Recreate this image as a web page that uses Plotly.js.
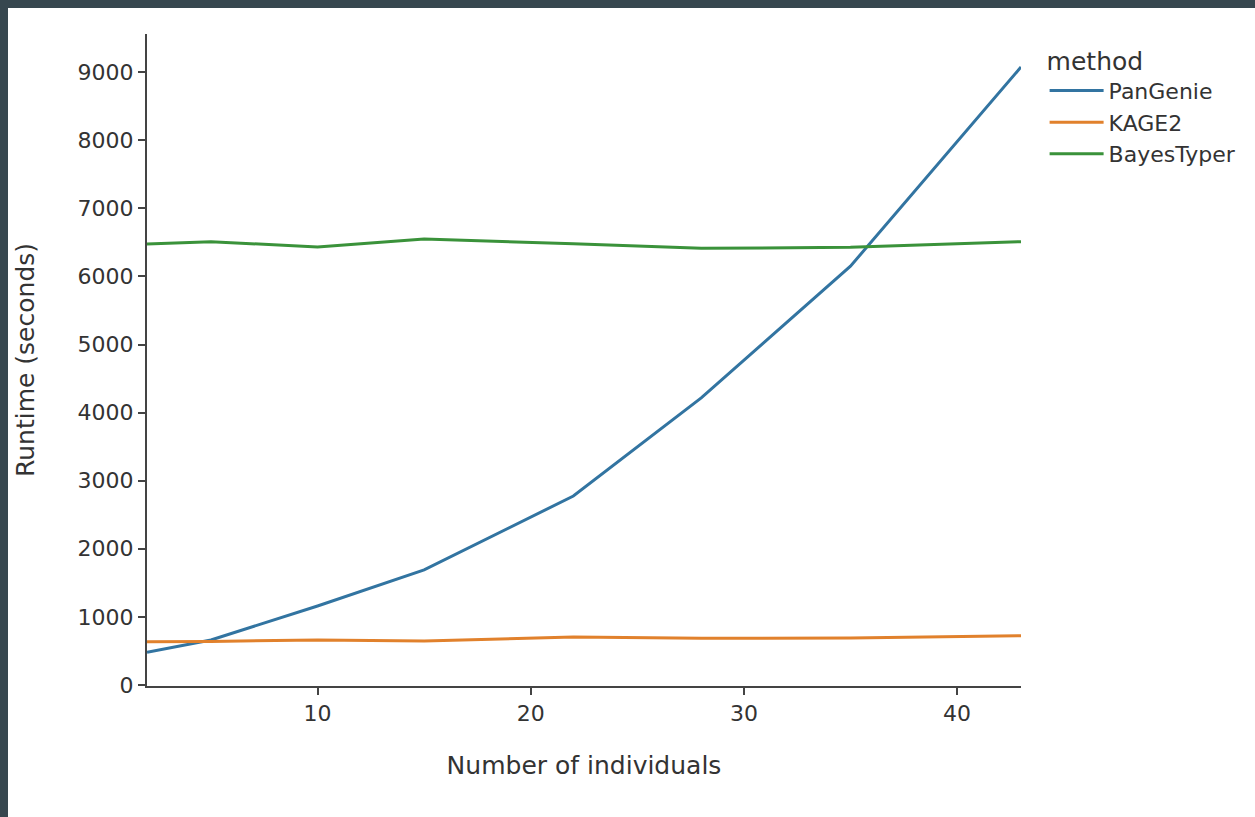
<!DOCTYPE html>
<html>
<head>
<meta charset="utf-8">
<script src="https://cdn.plot.ly/plotly-3.0.1.min.js"></script>
<style>
  html, body { margin: 0; padding: 0; background: #37474f; width: 1255px; height: 817px; overflow: hidden; }
  #chart { position: absolute; left: 8px; top: 8px; width: 1247px; height: 809px; background: #ffffff; }
</style>
</head>
<body>
<div id="chart"></div>
<script>
// Data
const individuals = [2, 5, 10, 15, 22, 28, 35, 43];
const pangenie    = [480, 660, 1160, 1690, 2775, 4215, 6150, 9075];
const kage2       = [636, 640, 661, 646, 706, 685, 690, 724];
const bayestyper  = [6476, 6510, 6432, 6549, 6480, 6413, 6427, 6510];

const seriesNames  = ['PanGenie', 'KAGE2', 'BayesTyper'];
const seriesValues = [pangenie, kage2, bayestyper];
const seriesColors = ['#3274a1', '#e1812c', '#3a923a'];

const xTicks = [10, 20, 30, 40];
const yTicks = [0, 1000, 2000, 3000, 4000, 5000, 6000, 7000, 8000, 9000];

const FONT = 'DejaVu Sans, sans-serif';
const TXT = '#333333';

const traces = seriesNames.map((name, i) => ({
  type: 'scatter',
  mode: 'lines',
  name: name,
  x: individuals,
  y: seriesValues[i],
  line: { color: seriesColors[i], width: 3 }
}));

const layout = {
  width: 1247,
  height: 809,
  paper_bgcolor: '#ffffff',
  plot_bgcolor: '#ffffff',
  margin: { l: 139, r: 234, t: 26, b: 131 },
  font: { family: FONT, color: TXT, size: 22 },
  showlegend: true,
  legend: {
    title: { text: 'method', font: { family: FONT, size: 25, color: TXT } },
    font: { family: FONT, size: 22, color: TXT },
    x: 1.027, xanchor: 'left',
    y: 0.995, yanchor: 'top',
    bgcolor: 'rgba(0,0,0,0)',
    itemwidth: 54,
    tracegroupgap: 0
  },
  xaxis: {
    range: [2, 43],
    tickvals: xTicks,
    ticktext: xTicks.map(String),
    showgrid: false,
    zeroline: false,
    showline: true,
    linecolor: '#444444',
    linewidth: 2,
    ticks: 'outside',
    ticklen: 7,
    tickwidth: 2,
    tickcolor: '#444444',
    tickfont: { family: FONT, size: 22, color: TXT },
    title: { text: 'Number of individuals', font: { family: FONT, size: 25, color: TXT }, standoff: 31 }
  },
  yaxis: {
    range: [-15, 9560],
    tickvals: yTicks,
    ticktext: yTicks.map(String),
    showgrid: false,
    zeroline: false,
    showline: true,
    linecolor: '#444444',
    linewidth: 2,
    ticks: 'outside',
    ticklen: 7,
    tickwidth: 2,
    tickcolor: '#444444',
    tickfont: { family: FONT, size: 22, color: TXT },
    title: { text: 'Runtime (seconds)', font: { family: FONT, size: 25, color: TXT }, standoff: 36 }
  }
};

Plotly.newPlot('chart', traces, layout, { displayModeBar: false, responsive: false });
</script>
</body>
</html>
